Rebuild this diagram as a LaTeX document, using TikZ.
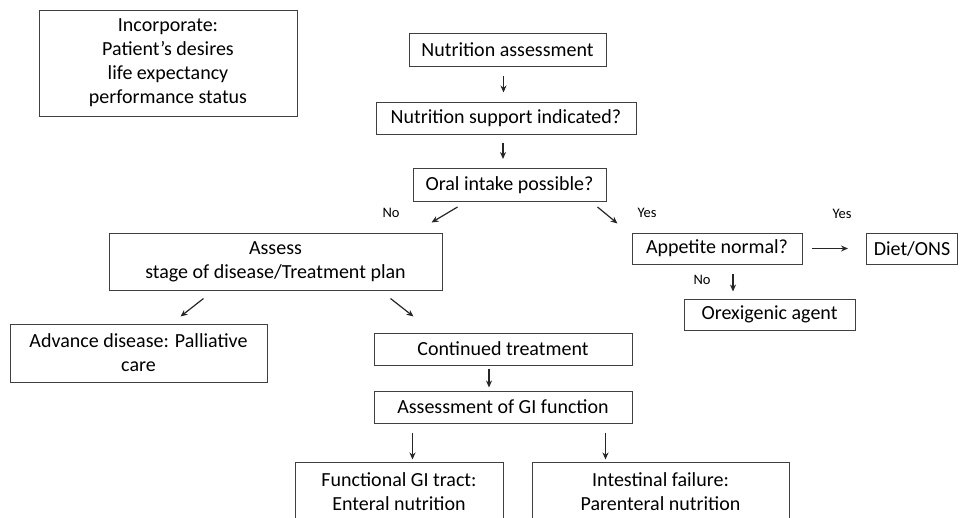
\documentclass[tikz,border=0pt]{standalone}
\usepackage{fontspec}
\setmainfont{Carlito}
\usetikzlibrary{arrows.meta}

\begin{document}
\begin{tikzpicture}[x=1pt,y=-1pt,
        box/.style={draw=black!75, line width=1pt, inner sep=0pt, align=center,
            font=\fontsize{20}{24}\selectfont},
        lbl/.style={font=\fontsize{14.5}{16}\selectfont},
        arr/.style={-{Stealth[length=7pt,width=6pt]}, line width=1.2pt, black!85}]

        \useasboundingbox (0,0) rectangle (960,517);
        \clip (0,0) rectangle (960,517);

        % Draw the boxes
        \node[box, minimum width=258, minimum height=106] (incorp) at (168,63)
            {Incorporate:\\Patient’s desires\\life expectancy\\performance status};
        \node[box, minimum width=197, minimum height=33] (nutr) at (507.5,50) {Nutrition assessment};
        \node[box, minimum width=260, minimum height=32] (support) at (506,118) {Nutrition support indicated?};
        \node[box, minimum width=193, minimum height=33] (oral) at (509.5,185) {Oral intake possible?};
        \node[box, minimum width=333, minimum height=57] (stage) at (275.5,261.5)
            {Assess\\stage of disease/Treatment plan};
        \node[box, minimum width=170, minimum height=31] (appetite) at (717,248.5) {Appetite normal?};
        \node[box, minimum width=91, minimum height=31] (diet) at (912,248.5) {Diet/ONS};
        \node[box, minimum width=171, minimum height=31] (orex) at (769.5,314.5) {Orexigenic agent};
        \node[box, minimum width=257, minimum height=58] (advance) at (138.5,353)
            {Advance disease: Palliative\\care};
        \node[box, minimum width=258, minimum height=32] (cont) at (503,349) {Continued treatment};
        \node[box, minimum width=258, minimum height=32] (gi) at (503,407) {Assessment of GI function};
        \node[box, minimum width=208, minimum height=60] (func) at (399,492)
            {Functional GI tract:\\Enteral nutrition};
        \node[box, minimum width=257, minimum height=60] (intest) at (660.5,492)
            {Intestinal failure:\\Parenteral nutrition};

        % Yes / No labels
        \node[lbl] (no1) at (391,213) {No};
        \node[lbl] (yes1) at (647,213) {Yes};
        \node[lbl] (yes2) at (842,214) {Yes};
        \node[lbl] (no2) at (702,280) {No};

        % Draw the arrows
        \draw[arr, shorten <=9pt, shorten >=9pt] ([xshift=-4pt]nutr.south) -- ([xshift=-4pt]nutr.south |- support.north);
        \draw[arr, shorten <=8pt, shorten >=9pt] ([xshift=-3pt]support.south) -- ([xshift=-3pt]support.south |- oral.north);
        \draw[arr] ([xshift=45pt,yshift=-5pt]oral.south west) -- ([xshift=323pt,yshift=10pt]stage.north west);
        \draw[arr] ([xshift=-9pt,yshift=-5pt]oral.south east) -- ([xshift=-14pt,yshift=9pt]appetite.north west);
        \draw[arr, shorten <=9pt, shorten >=18pt] (appetite.east) -- (diet.west);
        \draw[arr, shorten <=9pt, shorten >=7pt] ([xshift=16pt]appetite.south) -- ([xshift=16pt]appetite.south |- orex.north);
        \draw[arr] ([xshift=95pt,yshift=-8pt]stage.south west) -- ([xshift=171pt,yshift=7pt]advance.north west);
        \draw[arr] ([xshift=282pt,yshift=-8pt]stage.south west) -- ([xshift=40pt,yshift=16pt]cont.north west);
        \draw[arr, shorten <=3pt, shorten >=3pt] ([xshift=-14pt]cont.south) -- ([xshift=-14pt]cont.south |- gi.north);
        \draw[arr, shorten <=9pt, shorten >=2pt] ([xshift=39pt]gi.south west) -- ([xshift=39pt]gi.south west |- func.north);
        \draw[arr, shorten <=9pt, shorten >=2pt] ([xshift=232pt]gi.south west) -- ([xshift=232pt]gi.south west |- intest.north);
    \end{tikzpicture}
\end{document}
